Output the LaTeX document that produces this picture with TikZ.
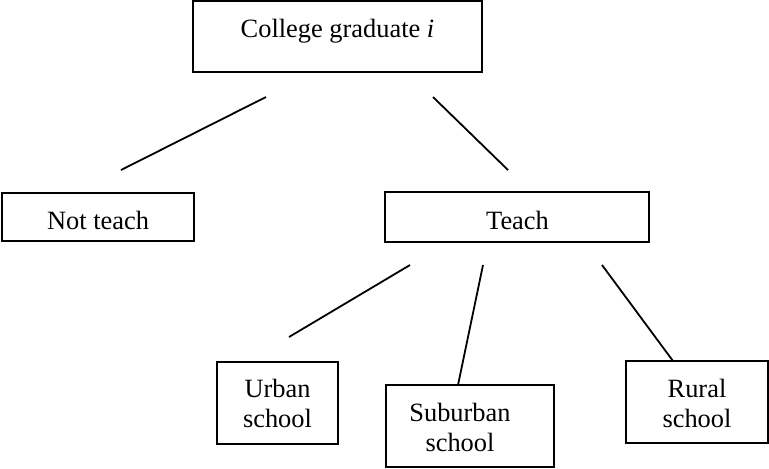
\documentclass[tikz,border=0pt]{standalone}
\usepackage{fontspec}
\setmainfont{Liberation Serif}
\begin{document}
\begin{tikzpicture}[x=0.5pt,y=-0.5pt,
  boxshape/.style={draw=black,line width=1pt,rectangle,inner sep=0pt},
  lbl/.style={inner sep=0pt,anchor=base,align=center,font=\fontsize{13.2pt}{15pt}\selectfont},
  link/.style={draw=black,line width=0.9pt}]
\useasboundingbox (0,0) rectangle (769,468);
% boxes
\node[boxshape,minimum width=289*0.5pt,minimum height=71*0.5pt] (top) at (337.5,36.5) {};
\node[boxshape,minimum width=192*0.5pt,minimum height=48*0.5pt] (nt) at (98,217) {};
\node[boxshape,minimum width=264*0.5pt,minimum height=50*0.5pt] (tc) at (517,217) {};
\node[boxshape,minimum width=121*0.5pt,minimum height=82*0.5pt] (ub) at (277.5,403) {};
\node[boxshape,minimum width=168*0.5pt,minimum height=82*0.5pt] (sb) at (470,426) {};
\node[boxshape,minimum width=142*0.5pt,minimum height=82*0.5pt] (rb) at (697,402) {};
% texts
\node[lbl] (toptxt) at (337.5,37) {College graduate \textit{i}};
\node[lbl] (nttxt) at (98,229) {Not teach};
\node[lbl] (tctxt) at (517.5,229) {Teach};
\node[lbl] (ubtxt) at (277.5,427) {Urban\\school};
\node[lbl] (sbtxt) at (460,451) {Suburban\\school};
\node[lbl] (rbtxt) at (697,427) {Rural\\school};
% connector ends
\coordinate (a1) at (266,97);  \coordinate (a2) at (121,170);
\coordinate (b1) at (433,97);  \coordinate (b2) at (508,170);
\coordinate (c1) at (410,265); \coordinate (c2) at (289,337);
\coordinate (d1) at (483,265); \coordinate (d2) at (458,385);
\coordinate (e1) at (602,265); \coordinate (e2) at (673,361);
\draw[link] (a1) -- (a2);
\draw[link] (b1) -- (b2);
\draw[link] (c1) -- (c2);
\draw[link] (d1) -- (d2);
\draw[link] (e1) -- (e2);
\end{tikzpicture}
\end{document}
